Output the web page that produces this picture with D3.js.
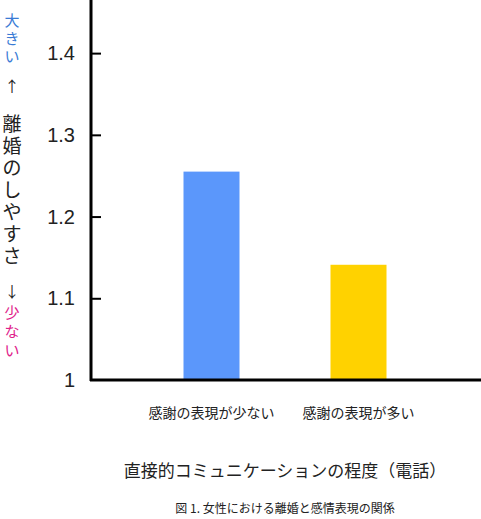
<!DOCTYPE html><html><head><meta charset="utf-8"><script src="https://cdn.jsdelivr.net/npm/d3@7"></script>
<style>body{margin:0;background:#fff}text{font-family:"Noto Sans CJK JP","Noto Sans",sans-serif}</style></head><body>
<script>
const categories=["感謝の表現が少ない","感謝の表現が多い"];
const values=[1.255,1.141];
const colors=["#5b97fb","#ffd200"];
const ticks=[1,1.1,1.2,1.3,1.4];
const W=481,H=519;
const svg=d3.select("body").append("svg").attr("width",W).attr("height",H);
const y=d3.scaleLinear().domain([1,1.465]).range([380,0]);
const x=d3.scaleBand().domain(categories).range([110,460]).paddingInner(0.619).paddingOuter(0.5);
svg.selectAll("rect").data(values).join("rect")
 .attr("x",(d,i)=>x(categories[i])).attr("width",x.bandwidth())
 .attr("y",d=>y(d)).attr("height",d=>y(1)-y(d)).attr("fill",(d,i)=>colors[i]);
const ax=svg.append("g").attr("transform","translate(91,0)")
 .call(d3.axisRight(y).tickValues(ticks.slice(1)).tickSize(10).tickFormat(""));
ax.select(".domain").remove();
ax.selectAll("line").attr("stroke","#000").attr("stroke-width",2);
svg.append("line").attr("x1",91).attr("x2",91).attr("y1",0).attr("y2",381).attr("stroke","#000").attr("stroke-width",3);
svg.append("line").attr("x1",90).attr("x2",481).attr("y1",380).attr("y2",380).attr("stroke","#000").attr("stroke-width",3);
svg.selectAll(".tl").data(ticks).join("text").attr("x",75).attr("y",d=>y(d)+7)
 .attr("text-anchor","end").attr("font-size",20).attr("fill","#222").style("font-family","Liberation Sans, sans-serif").text(d=>d===1?"1":d.toFixed(1));
svg.selectAll(".xl").data(categories).join("text").attr("x",d=>x(d)+x.bandwidth()/2).attr("y",418)
 .attr("text-anchor","middle").attr("font-size",14).attr("fill","#222").text(d=>d);
svg.append("text").attr("x",285).attr("y",477).attr("text-anchor","middle").attr("font-size",17).attr("fill","#222").text("直接的コミュニケーションの程度（電話）");
svg.append("text").attr("x",285).attr("y",513).attr("text-anchor","middle").attr("font-size",12).attr("fill","#222").text("図 1. 女性における離婚と感情表現の関係");
const vl=[["大",26,"#3a7bd5"],["き",44,"#3a7bd5"],["い",62,"#3a7bd5"],["↑",92,"#222"],["離",131,"#222"],["婚",153,"#222"],["の",175,"#222"],["し",197,"#222"],["や",219,"#222"],["す",241,"#222"],["さ",263,"#222"],["↓",297,"#222"],["少",318,"#e0208a"],["な",337,"#e0208a"],["い",356,"#e0208a"]];
svg.selectAll(".vl").data(vl).join("text").attr("x",12).attr("y",d=>d[1]).attr("text-anchor","middle")
 .attr("font-size",d=>d[1]>100&&d[1]<270?19:15).attr("fill",d=>d[2]).text(d=>d[0]);
</script></body></html>
